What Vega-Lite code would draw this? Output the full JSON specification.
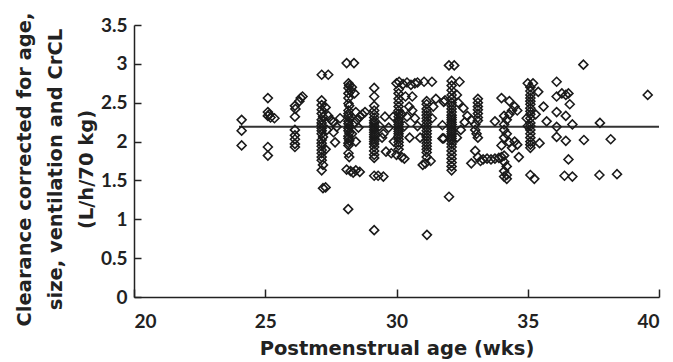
{
  "$schema": "https://vega.github.io/schema/vega-lite/v6.json",
  "width": 525,
  "height": 272,
  "autosize": "none",
  "padding": {"left": 134, "top": 25, "right": 14, "bottom": 65},
  "background": "white",
  "config": {
    "view": {"stroke": null},
    "font": "Lato",
    "axis": {
      "domainColor": "#222",
      "domainWidth": 1.5,
      "tickColor": "#222",
      "tickWidth": 1.5,
      "grid": false,
      "labelFont": "Lato",
      "labelFontWeight": "bold",
      "labelColor": "#222",
      "labelFontSize": 19,
      "labelOverlap": false,
      "titleFont": "DejaVu Sans",
      "titleFontWeight": "bold",
      "titleColor": "#222",
      "titleFontSize": 19.5
    }
  },
  "datasets": {
    "pts": [
      {"a":24.1,"c":2.28},{"a":24.1,"c":2.14},{"a":24.1,"c":1.95},
      {"a":25.1,"c":2.56},{"a":25.1,"c":2.38},{"a":25.15,"c":2.35},{"a":25.1,"c":2.33},{"a":25.2,"c":2.31},{"a":25.35,"c":2.30},{"a":25.1,"c":1.93},{"a":25.1,"c":1.82},
      {"a":26.13,"c":2.46},{"a":26.15,"c":2.42},{"a":26.3,"c":2.52},{"a":26.35,"c":2.56},{"a":26.42,"c":2.58},{"a":26.13,"c":2.32},{"a":26.13,"c":2.15},{"a":26.13,"c":2.08},{"a":26.13,"c":2.03},{"a":26.13,"c":1.97},{"a":26.13,"c":1.93},
      {"a":27.15,"c":2.86},{"a":27.4,"c":2.86},{"a":27.15,"c":2.53},{"a":27.15,"c":2.47},{"a":27.15,"c":2.41},{"a":27.15,"c":2.36},{"a":27.2,"c":2.32},{"a":27.15,"c":2.28},{"a":27.15,"c":2.24},{"a":27.15,"c":2.21},{"a":27.15,"c":2.17},{"a":27.15,"c":2.14},{"a":27.15,"c":2.10},{"a":27.2,"c":2.06},{"a":27.15,"c":2.02},{"a":27.15,"c":1.98},{"a":27.15,"c":1.94},{"a":27.15,"c":1.89},{"a":27.15,"c":1.85},{"a":27.15,"c":1.80},{"a":27.15,"c":1.76},{"a":27.2,"c":1.70},{"a":27.15,"c":1.63},{"a":27.2,"c":1.40},{"a":27.3,"c":1.41},{"a":27.4,"c":2.33},{"a":27.6,"c":2.25},{"a":27.72,"c":2.19},{"a":27.6,"c":2.12},{"a":27.66,"c":1.99},{"a":27.5,"c":2.28},{"a":27.85,"c":2.30},{"a":27.3,"c":2.44},{"a":27.35,"c":2.15},{"a":27.3,"c":1.90},
      {"a":28.1,"c":3.01},{"a":28.38,"c":3.01},{"a":28.17,"c":2.75},{"a":28.2,"c":2.72},{"a":28.17,"c":2.69},{"a":28.25,"c":2.65},{"a":28.17,"c":2.62},{"a":28.17,"c":2.56},{"a":28.17,"c":2.49},{"a":28.2,"c":2.46},{"a":28.17,"c":2.40},{"a":28.17,"c":2.36},{"a":28.17,"c":2.33},{"a":28.2,"c":2.30},{"a":28.17,"c":2.26},{"a":28.17,"c":2.23},{"a":28.2,"c":2.20},{"a":28.17,"c":2.17},{"a":28.17,"c":2.14},{"a":28.2,"c":2.11},{"a":28.17,"c":2.07},{"a":28.17,"c":2.04},{"a":28.2,"c":2.01},{"a":28.17,"c":1.98},{"a":28.17,"c":1.95},{"a":28.17,"c":1.85},{"a":28.2,"c":1.80},{"a":28.1,"c":1.64},{"a":28.25,"c":1.62},{"a":28.35,"c":1.60},{"a":28.45,"c":1.63},{"a":28.6,"c":1.61},{"a":28.16,"c":1.13},{"a":28.4,"c":2.62},{"a":28.45,"c":2.38},{"a":28.6,"c":2.32},{"a":28.5,"c":2.28},{"a":28.45,"c":2.00},{"a":28.7,"c":2.35},{"a":28.3,"c":2.70},{"a":28.4,"c":2.24},{"a":28.55,"c":2.18},{"a":28.3,"c":2.10},{"a":28.8,"c":2.38},
      {"a":29.15,"c":2.69},{"a":29.15,"c":2.58},{"a":29.15,"c":2.46},{"a":29.15,"c":2.40},{"a":29.15,"c":2.35},{"a":29.15,"c":2.31},{"a":29.15,"c":2.27},{"a":29.15,"c":2.24},{"a":29.15,"c":2.21},{"a":29.15,"c":2.18},{"a":29.15,"c":2.15},{"a":29.15,"c":2.12},{"a":29.15,"c":2.09},{"a":29.15,"c":2.06},{"a":29.15,"c":2.03},{"a":29.15,"c":2.00},{"a":29.15,"c":1.97},{"a":29.15,"c":1.93},{"a":29.15,"c":1.88},{"a":29.15,"c":1.83},{"a":29.15,"c":1.79},{"a":29.15,"c":1.56},{"a":29.3,"c":1.56},{"a":29.5,"c":1.55},{"a":29.15,"c":0.86},{"a":29.56,"c":2.32},{"a":29.88,"c":2.32},{"a":29.5,"c":2.10},{"a":29.35,"c":2.20},{"a":29.45,"c":2.05},{"a":29.7,"c":2.18},{"a":29.9,"c":2.00},
      {"a":30.0,"c":2.75},{"a":30.1,"c":2.77},{"a":30.25,"c":2.74},{"a":30.4,"c":2.76},{"a":30.55,"c":2.73},{"a":30.7,"c":2.75},{"a":30.8,"c":2.76},{"a":30.08,"c":2.67},{"a":30.08,"c":2.62},{"a":30.08,"c":2.55},{"a":30.08,"c":2.50},{"a":30.08,"c":2.45},{"a":30.08,"c":2.40},{"a":30.08,"c":2.36},{"a":30.08,"c":2.32},{"a":30.08,"c":2.28},{"a":30.08,"c":2.25},{"a":30.08,"c":2.22},{"a":30.08,"c":2.19},{"a":30.08,"c":2.16},{"a":30.08,"c":2.13},{"a":30.08,"c":2.10},{"a":30.08,"c":2.07},{"a":30.08,"c":2.03},{"a":30.08,"c":1.99},{"a":30.08,"c":1.95},{"a":30.08,"c":1.90},{"a":29.6,"c":1.87},{"a":29.8,"c":1.85},{"a":30.0,"c":1.83},{"a":30.2,"c":1.80},{"a":30.3,"c":1.78},{"a":30.34,"c":2.58},{"a":30.6,"c":2.58},{"a":30.48,"c":2.45},{"a":30.4,"c":2.32},{"a":30.6,"c":2.40},{"a":30.7,"c":2.30},{"a":30.8,"c":2.20},{"a":30.5,"c":2.05},{"a":30.9,"c":2.05},{"a":30.3,"c":2.20},{"a":30.2,"c":2.35},
      {"a":31.05,"c":2.77},{"a":31.35,"c":2.77},{"a":31.15,"c":2.52},{"a":31.15,"c":2.48},{"a":31.15,"c":2.42},{"a":31.15,"c":2.38},{"a":31.15,"c":2.34},{"a":31.15,"c":2.30},{"a":31.15,"c":2.26},{"a":31.15,"c":2.22},{"a":31.15,"c":2.18},{"a":31.15,"c":2.14},{"a":31.15,"c":2.10},{"a":31.15,"c":2.06},{"a":31.15,"c":2.02},{"a":31.15,"c":1.98},{"a":31.15,"c":1.94},{"a":31.15,"c":1.90},{"a":31.15,"c":1.86},{"a":31.15,"c":1.80},{"a":31.3,"c":1.75},{"a":31.1,"c":1.72},{"a":31.0,"c":1.70},{"a":31.16,"c":0.80},{"a":31.5,"c":2.55},{"a":31.4,"c":2.45},{"a":31.8,"c":2.51},{"a":31.75,"c":2.21},{"a":31.75,"c":2.04},{"a":31.35,"c":2.30},
      {"a":32.0,"c":2.98},{"a":32.2,"c":2.98},{"a":32.1,"c":2.78},{"a":32.1,"c":2.72},{"a":32.1,"c":2.66},{"a":32.1,"c":2.60},{"a":32.1,"c":2.55},{"a":32.1,"c":2.50},{"a":32.1,"c":2.46},{"a":32.1,"c":2.42},{"a":32.1,"c":2.38},{"a":32.1,"c":2.34},{"a":32.1,"c":2.31},{"a":32.1,"c":2.28},{"a":32.1,"c":2.25},{"a":32.1,"c":2.22},{"a":32.1,"c":2.19},{"a":32.1,"c":2.16},{"a":32.1,"c":2.13},{"a":32.1,"c":2.10},{"a":32.1,"c":2.07},{"a":32.1,"c":2.04},{"a":32.1,"c":2.01},{"a":32.1,"c":1.97},{"a":32.1,"c":1.93},{"a":32.1,"c":1.88},{"a":32.1,"c":1.83},{"a":32.1,"c":1.78},{"a":32.1,"c":1.73},{"a":32.1,"c":1.68},{"a":32.1,"c":1.63},{"a":32.0,"c":1.29},{"a":32.4,"c":2.77},{"a":32.3,"c":2.60},{"a":32.55,"c":2.43},{"a":32.7,"c":2.33},{"a":32.3,"c":2.05},{"a":32.6,"c":2.25},{"a":31.85,"c":2.53},{"a":31.8,"c":2.04},{"a":32.35,"c":2.50},{"a":32.45,"c":2.15},
      {"a":33.1,"c":2.55},{"a":33.1,"c":2.50},{"a":33.1,"c":2.45},{"a":33.1,"c":2.41},{"a":33.1,"c":2.36},{"a":33.1,"c":2.31},{"a":33.1,"c":2.27},{"a":33.0,"c":2.22},{"a":33.0,"c":2.15},{"a":33.05,"c":2.10},{"a":33.1,"c":2.05},{"a":33.0,"c":1.88},{"a":33.1,"c":1.80},{"a":33.3,"c":1.77},{"a":33.45,"c":1.78},{"a":33.6,"c":1.77},{"a":33.75,"c":1.78},{"a":33.9,"c":1.79},{"a":34.0,"c":1.80},{"a":32.85,"c":1.72},{"a":33.2,"c":1.75},{"a":33.75,"c":2.26},{"a":32.85,"c":2.28},
      {"a":34.0,"c":2.56},{"a":34.3,"c":2.52},{"a":34.5,"c":2.45},{"a":34.4,"c":2.40},{"a":34.3,"c":2.35},{"a":34.1,"c":2.33},{"a":34.2,"c":2.28},{"a":34.1,"c":2.22},{"a":34.1,"c":2.15},{"a":34.2,"c":2.10},{"a":34.1,"c":2.05},{"a":34.3,"c":1.99},{"a":34.0,"c":1.95},{"a":34.4,"c":1.92},{"a":34.1,"c":1.82},{"a":34.1,"c":1.74},{"a":34.2,"c":1.68},{"a":34.1,"c":1.62},{"a":34.2,"c":1.57},{"a":34.1,"c":1.55},{"a":34.2,"c":1.52},{"a":34.5,"c":2.00},{"a":34.66,"c":1.80},{"a":34.6,"c":2.40},{"a":34.6,"c":1.96},
      {"a":35.0,"c":2.75},{"a":35.2,"c":2.75},{"a":35.1,"c":2.70},{"a":35.1,"c":2.65},{"a":35.4,"c":2.64},{"a":35.1,"c":2.60},{"a":35.1,"c":2.56},{"a":35.1,"c":2.52},{"a":35.1,"c":2.48},{"a":35.1,"c":2.43},{"a":35.1,"c":2.39},{"a":35.1,"c":2.35},{"a":35.1,"c":2.30},{"a":35.1,"c":2.24},{"a":35.1,"c":2.20},{"a":35.1,"c":2.15},{"a":35.1,"c":2.10},{"a":35.1,"c":2.05},{"a":35.1,"c":2.00},{"a":35.1,"c":1.96},{"a":35.1,"c":1.92},{"a":35.1,"c":1.57},{"a":35.25,"c":1.52},{"a":34.96,"c":2.30},{"a":35.3,"c":2.35},{"a":35.6,"c":2.45},{"a":35.45,"c":1.98},{"a":35.72,"c":2.26},{"a":35.0,"c":2.20},
      {"a":36.1,"c":2.77},{"a":36.1,"c":2.58},{"a":36.3,"c":2.62},{"a":36.45,"c":2.60},{"a":36.55,"c":2.62},{"a":36.6,"c":2.48},{"a":36.1,"c":2.38},{"a":36.45,"c":2.33},{"a":36.7,"c":2.22},{"a":36.1,"c":2.19},{"a":36.1,"c":2.06},{"a":36.45,"c":2.01},{"a":36.55,"c":1.77},{"a":36.4,"c":1.56},{"a":36.7,"c":1.55},
      {"a":37.12,"c":2.99},{"a":37.14,"c":2.02},{"a":37.75,"c":2.24},{"a":38.16,"c":2.03},{"a":37.73,"c":1.57},{"a":38.4,"c":1.58},{"a":39.57,"c":2.60}
    ],
    "fit": [{"a": 24, "a2": 40, "c": 2.19}]
  },
  "encoding": {
    "x": {
      "field": "a", "type": "quantitative",
      "scale": {"domain": [20, 40], "nice": false},
      "axis": {"values": [20, 25, 30, 35, 40], "tickSize": -8, "labelPadding": 23, "title": "Postmenstrual age (wks)", "titlePadding": 8}
    },
    "y": {
      "field": "c", "type": "quantitative",
      "scale": {"domain": [0, 3.5], "nice": false},
      "axis": {"values": [0, 0.5, 1, 1.5, 2, 2.5, 3, 3.5], "format": ".1~f", "tickSize": -7, "labelPadding": 14, "labelOverlap": false,
               "title": ["Clearance corrected for age,", "size, ventilation and CrCL", "(L/h/70 kg)"], "titlePadding": 4, "titleLineHeight": 31, "titleY": 144}
    }
  },
  "layer": [
    {
      "data": {"name": "fit"},
      "mark": {"type": "rule", "color": "#333", "strokeWidth": 2},
      "encoding": {"x2": {"field": "a2"}}
    },
    {
      "data": {"name": "pts"},
      "mark": {"type": "point", "shape": "diamond", "filled": false, "color": "#1a1a1a", "size": 80, "strokeWidth": 1.6, "opacity": 1},
      "encoding": {}
    }
  ]
}
